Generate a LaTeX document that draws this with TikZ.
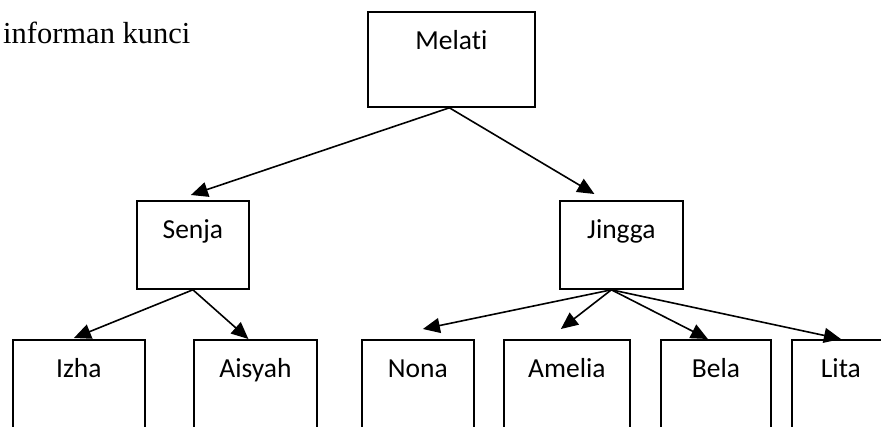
\documentclass[tikz,border=0pt]{standalone}
\usepackage{fontspec}
\setmainfont{Carlito}[Ligatures=NoCommon]
\newfontfamily\timesfont{Liberation Serif}
\usetikzlibrary{arrows.meta}

\tikzset{
	box/.style={shape=rectangle, draw=black, line width=1.8pt, inner sep=0pt, anchor=north west,
		text height=38pt, text depth=51pt, font=\fontsize{27.5}{32}\selectfont},
	arr/.style={-{Triangle[length=17pt,width=15pt]}, line width=1.6pt}
}

\begin{document}
\begin{tikzpicture}[x=1pt,y=-1pt]
	\useasboundingbox (0,0) rectangle (881,426);
	\clip (0,0) rectangle (881,426);

	\node[anchor=base west, inner sep=0pt, font=\timesfont\fontsize{30.5}{36}\selectfont] (title) at (3,43) {informan kunci};

	\node[box, minimum width=167pt, text depth=57pt] (Melati) at (367,11)  {Melati};
	\node[box, minimum width=112pt, text depth=50pt] (Senja)  at (136,200) {Senja};
	\node[box, minimum width=123pt, text depth=50pt] (Jingga) at (559,200) {Jingga};
	\node[box, minimum width=132pt] (Izha)   at (12,339)  {Izha};
	\node[box, minimum width=123pt] (Aisyah) at (193,339) {Aisyah};
	\node[box, minimum width=112pt] (Nona)   at (361,339) {Nona};
	\node[box, minimum width=126pt] (Amelia) at (503,339) {Amelia};
	\node[box, minimum width=110pt] (Bela)   at (660,339) {Bela};
	\node[box, minimum width=98pt]  (Lita)   at (791,339) {Lita};

	\path[arr] ([xshift=-2pt]Melati.south) edge ([xshift=-2pt,yshift=5pt]Senja.north);
	\path[arr] ([xshift=-2pt]Melati.south) edge ([xshift=-27pt,yshift=6pt]Jingga.north);
	\path[arr] (Senja.south) edge ([xshift=-5pt,yshift=1pt]Izha.north);
	\path[arr] (Senja.south) edge ([xshift=-7pt]Aisyah.north);
	\path[arr] ([xshift=-10pt]Jingga.south) edge ([xshift=5pt,yshift=10pt]Nona.north);
	\path[arr] ([xshift=-10pt]Jingga.south) edge ([xshift=-6pt,yshift=10pt]Amelia.north);
	\path[arr] ([xshift=-10pt]Jingga.south) edge ([xshift=-8pt]Bela.north);
	\path[arr] ([xshift=-10pt]Jingga.south) edge (Lita.north);
\end{tikzpicture}
\end{document}
